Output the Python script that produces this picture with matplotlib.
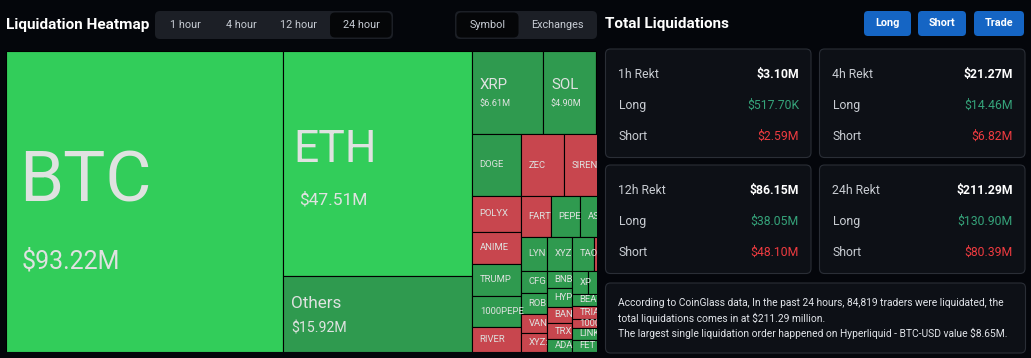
import matplotlib
matplotlib.use("Agg")
import matplotlib.pyplot as plt
from matplotlib.patches import Rectangle, FancyBboxPatch

# ---- treemap leaves (24h liquidations, $M) ---------------------------------
# tone: "L" = strong long-side, "l" = long-side, "S" = short-side
COINS = ["BTC", "ETH", "Others", "XRP", "SOL", "",
         "DOGE", "POLYX", "ANIME", "TRUMP", "1000PEPE", "RIVER",
         "ZEC", "SIREN", "",
         "FARTCOIN", "PEPE", "ASTER", "",
         "LYN", "XYZ", "TAO", "",
         "CFG", "ROBO", "VANA", "XYZ:",
         "BNB", "HYPE", "BANANA", "TRX", "ADA",
         "XPL", "", "",
         "BEAT", "TRIA", "1000BONK", "LINK", "FET", ""]
VALUES = [93.22, 47.51, 15.92, 6.61, 4.90, 3.56,
          3.39, 1.97, 1.75, 1.75, 1.70, 1.37,
          2.98, 2.95, 1.93,
          1.37, 1.33, 1.20, 1.29,
          0.99, 0.95, 0.84, 1.53,
          0.64, 0.61, 0.55, 0.55,
          0.47, 0.53, 0.45, 0.45, 0.36,
          0.41, 0.40, 0.78,
          0.35, 0.38, 0.26, 0.35, 0.35, 2.39]
TONES = ["L", "L", "l", "l", "l", "l",
         "l", "S", "S", "l", "l", "S",
         "S", "S", "S",
         "S", "l", "l", "l",
         "l", "l", "l", "S",
         "l", "l", "S", "S",
         "l", "l", "S", "S", "l",
         "l", "l", "l",
         "l", "S", "S", "l", "l", "l"]

# nesting of the treemap (h = side by side, v = stacked), leaves are indexes
LAYOUT = ("h", [0, ("v", [1, 2]),
                ("v", [("h", [3, 4, 5]),
                       ("h", [("v", [6, 7, 8, 9, 10, 11]),
                              ("v", [("h", [12, 13, 14]),
                                     ("h", [15, 16, 17, 18]),
                                     ("h", [19, 20, 21, 22]),
                                     ("h", [("v", [23, 24, 25, 26]),
                                            ("v", [27, 28, 29, 30, 31]),
                                            ("v", [("h", [32, 33, 34]),
                                                   ("h", [("v", [35, 36, 37, 38, 39]), 40])])])])])])])

# ---- summary cards ---------------------------------------------------------
PERIODS = ["1h", "4h", "12h", "24h"]
TOTAL_M = [3.10, 21.27, 86.15, 211.29]
LONG_M = [0.5177, 14.46, 38.05, 130.90]
SHORT_M = [2.59, 6.82, 48.10, 80.39]
NOTE = ["According to CoinGlass data, In the past 24 hours, 84,819 traders were liquidated, the",
        "total liquidations comes in at $211.29 million.",
        "The largest single liquidation order happened on Hyperliquid - BTC-USD value $8.65M."]
TIME_TABS = ["1 hour", "4 hour", "12 hour", "24 hour"]

BG = "#04060b"
CARD = "#0d1016"
CARD_EDGE = "#2a2e36"
TAB_BG = "#1c1f26"
BLUE = "#1565c4"
TONE_COLOR = {"L": "#32cd5a", "l": "#2f9a4f", "S": "#c8464e"}
TILE_TXT = "#dfe2e0"
LONG_TXT = "#35a37a"
SHORT_TXT = "#ee3b40"

# big-tile label style: name pt, value pt, name dy px, value dy px, name dx px, value dx px
BIG = {"BTC": (51, 18, -20, 60, 13, 16),
       "ETH": (32, 12.5, -14, 36, 10, 16),
       "Others": (12.3, 10.2, -10.5, 14.5, 8, 8),
       "XRP": (10.8, 6.6, -8, 11, 8, 8),
       "SOL": (10.8, 6.6, -8, 11, 8, 8)}

plt.rcParams["font.family"] = ["Roboto", "DejaVu Sans"]


def fmt(v):
    return f"${v * 1000:.2f}K" if v < 1 else f"${v:.2f}M"


def node_total(n):
    if isinstance(n, int):
        return VALUES[n]
    return sum(node_total(k) for k in n[1])


def place(n, x, y, w, h, out):
    if isinstance(n, int):
        out[n] = (x, y, w, h)
        return
    d, kids = n
    tot = node_total(n)
    pos = 0.0
    for k in kids:
        f = node_total(k) / tot
        if d == "h":
            place(k, x + pos * w, y, f * w, h, out)
        else:
            place(k, x, y + pos * h, w, f * h, out)
        pos += f


fig = plt.figure(figsize=(10.31, 3.58), dpi=100, facecolor=BG)

# full-figure pixel canvas for the page chrome
ui = fig.add_axes([0, 0, 1, 1], zorder=0)
ui.set_xlim(0, 1031)
ui.set_ylim(358, 0)
ui.axis("off")


def box(x, y, w, h, fc, ec="none", r=5, lw=0.8):
    ui.add_patch(FancyBboxPatch((x, y), w, h, boxstyle=f"round,pad=0,rounding_size={r}",
                                fc=fc, ec=ec, lw=lw))


ui.text(6, 25.5, "Liquidation Heatmap", color="white", fontsize=11, fontweight="bold", va="center")
box(155, 11, 238, 28, TAB_BG)
box(330, 12.5, 61.5, 25, "#050608")
for lbl, cx in zip(TIME_TABS, [185, 241, 299, 361]):
    ui.text(cx, 24.5, lbl, color="#c7ccd4", fontsize=7.8, ha="center", va="center")

box(455, 11, 142, 28, TAB_BG)
box(456.5, 12.5, 62, 25, "#050608")
ui.text(487.5, 24.5, "Symbol", color="#c7ccd4", fontsize=7.8, ha="center", va="center")
ui.text(557, 24.5, "Exchanges", color="#c7ccd4", fontsize=7.8, ha="center", va="center")

ui.text(605, 24, "Total Liquidations", color="white", fontsize=11, fontweight="bold", va="center")
for lbl, x0, w in [("Long", 864, 47), ("Short", 918, 48), ("Trade", 974, 50)]:
    box(x0, 11, w, 25, BLUE, r=4)
    ui.text(x0 + w / 2, 23.5, lbl, color="white", fontsize=7.8, fontweight="bold",
            ha="center", va="center")

card_xy = [(605.5, 49), (819.5, 49), (605.5, 165), (819.5, 165)]
for (cx, cy), per, tot, lo, sh in zip(card_xy, PERIODS, TOTAL_M, LONG_M, SHORT_M):
    box(cx, cy, 205.5, 108.5, CARD, CARD_EDGE)
    rows = [(f"{per} Rekt", fmt(tot), "white", "bold"),
            ("Long", fmt(lo), LONG_TXT, "normal"),
            ("Short", fmt(sh), SHORT_TXT, "normal")]
    for i, (lab, val, col, wt) in enumerate(rows):
        yy = cy + 25.5 + 31 * i
        ui.text(cx + 13, yy, lab, color="#c9cdd3", fontsize=8.8, va="center")
        ui.text(cx + 193.5, yy, val, color=col, fontsize=8.8, fontweight=wt,
                ha="right", va="center")

box(605.5, 283, 420, 70, CARD, CARD_EDGE)
for i, line in enumerate(NOTE):
    ui.text(618, 303 + 15 * i, line, color="#e2e5ea", fontsize=7.35, va="center")

# ---- treemap ---------------------------------------------------------------
H = 1.0
W_FULL = 2.087          # full map is wider than the visible panel
VIS_W = 591 / 301
ax = fig.add_axes([6 / 1031, 6 / 358, 591 / 1031, 301 / 358], zorder=1)
ax.set_xlim(0, VIS_W)
ax.set_ylim(H, 0)
ax.axis("off")

rects = {}
place(LAYOUT, 0, 0, W_FULL, H, rects)
renderer = fig.canvas.get_renderer()
px_per_unit = 301 / H


def fitted(name, size, avail_px):
    # keep the characters that start inside the tile; the rest is clipped anyway
    s = name
    while len(s) > 1:
        probe = ax.text(0, 0, s[:-1], fontsize=size)
        w = probe.get_window_extent(renderer).width
        probe.remove()
        if w < avail_px:
            break
        s = s[:-1]
    return s


for i, (x, y, w, h) in rects.items():
    r = Rectangle((x, y), w, h, fc=TONE_COLOR[TONES[i]], ec="black", lw=0.8)
    ax.add_patch(r)
    name = COINS[i]
    if not name:
        continue
    texts = []
    if name in BIG:
        npt, vpt, ndy, vdy, ndx, vdx = BIG[name]
        texts.append(ax.annotate(name, (x, y + h / 2), xytext=(ndx * 0.72, -ndy * 0.72),
                                 textcoords="offset points", color=TILE_TXT, fontsize=npt,
                                 va="center", ha="left"))
        texts.append(ax.annotate(fmt(VALUES[i]), (x, y + h / 2), xytext=(vdx * 0.72, -vdy * 0.72),
                                 textcoords="offset points", color=TILE_TXT, fontsize=vpt,
                                 va="center", ha="left"))
    else:
        avail = (min(x + w, VIS_W) - x) * px_per_unit - 8
        texts.append(ax.annotate(fitted(name, 6.8, avail), (x, y + h / 2), xytext=(8 * 0.72, 0),
                                 textcoords="offset points", color=TILE_TXT, fontsize=6.8,
                                 va="center", ha="left"))
    for t in texts:
        t.set_clip_path(r)
        t.set_clip_box(ax.bbox)

fig.savefig("out.png", dpi=100, facecolor=BG)
